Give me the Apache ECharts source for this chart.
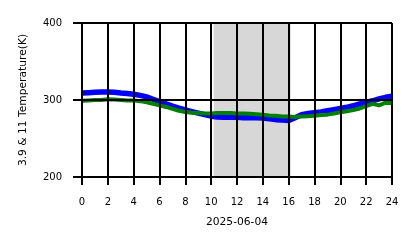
<!DOCTYPE html>
<html><head><meta charset="utf-8">
<script src="https://cdn.jsdelivr.net/npm/echarts@6/dist/echarts.min.js"></script>
<style>html,body{margin:0;padding:0;background:#fff}#c{width:418px;height:248px}</style>
</head><body><div id="c"></div>
<script>
const hours = [0,0.5,1,1.5,2,2.5,3,3.5,4,4.5,5,5.5,6,6.5,7,7.5,8,8.5,9,9.5,10,10.5,11,11.5,12,12.5,13,13.5,14,14.5,15,15.5,16,16.5,17,17.5,18,18.5,19,19.5,20,20.5,21,21.5,22,22.5,23,23.5,24];
const temp39 = [309,309.5,310,310.5,310.5,310,309,308.5,307.5,306,304,301,298,295,292,289.5,287,285,283,281,279,278,277.5,277.5,277.5,277,277,277,276.5,275.5,274.5,274,273.5,277,281,282.5,283.5,284.5,286,287.5,289,290.5,292.5,295,297,299,301.5,303.5,305];
const temp11 = [299,299.5,300,300,301,300.5,300,299.5,299.5,298.5,297,295,293,291,288.5,286,284.5,283.5,283,282.5,282.5,283,283,283,282.5,282.5,282,281.5,281,280,279.5,278.5,278.5,278,278.5,279,279.5,280.5,281,282.5,284,285.5,287,289,292,295,293,296.5,296];
const shadeRange = [10.2, 16.15];
const xTicks = [0,2,4,6,8,10,12,14,16,18,20,22,24];
const yTicks = [200,300,400];
const xName = '2025-06-04';
const yName = '3.9 & 11 Temperature(K)';

const font = 'DejaVu Sans';
const chart = echarts.init(document.getElementById('c'), null, {renderer:'canvas'});
const pair = arr => hours.map((h,i)=>[h,arr[i]]);
chart.setOption({
  animation:false,
  grid:{left:82,right:26,top:23,bottom:71,show:false},
  xAxis:{type:'value',min:0,max:24,interval:2,z:10,
    name:xName,nameLocation:'middle',nameGap:40,
    nameTextStyle:{fontFamily:font,fontSize:10.7,color:'#000'},
    axisLine:{show:true,lineStyle:{color:'#000',width:2}},
    axisTick:{show:true,length:8,lineStyle:{color:'#000',width:2}},
    axisLabel:{fontFamily:font,fontSize:10,color:'#000',margin:20,
      formatter:v=>xTicks.includes(v)?String(v):''},
    splitLine:{show:true,lineStyle:{color:'#000',width:2}}},
  yAxis:{type:'value',min:200,max:400,interval:100,z:10,
    name:yName,nameLocation:'middle',nameGap:53,nameRotate:90,
    nameTextStyle:{fontFamily:font,fontSize:10.7,color:'#000'},
    axisLine:{show:true,lineStyle:{color:'#000',width:2}},
    axisTick:{show:true,length:9,lineStyle:{color:'#000',width:2}},
    axisLabel:{fontFamily:font,fontSize:10,color:'#000',margin:20,
      formatter:v=>yTicks.includes(v)?String(v):''},
    splitLine:{show:true,lineStyle:{color:'#000',width:2}}},
  series:[
    {type:'line',data:[],z:1,silent:true,
      markArea:{silent:true,itemStyle:{color:'#d7d7d7'},
        data:[[{xAxis:shadeRange[0]},{xAxis:shadeRange[1]}]]}},
    {type:'line',data:pair(temp39),showSymbol:false,z:3,
      lineStyle:{color:'#0000ff',width:5.5},itemStyle:{color:'#0000ff'}},
    {type:'line',data:pair(temp11),showSymbol:false,z:4,
      lineStyle:{color:'#008000',width:4},itemStyle:{color:'#008000'}}
  ]
});
</script></body></html>
